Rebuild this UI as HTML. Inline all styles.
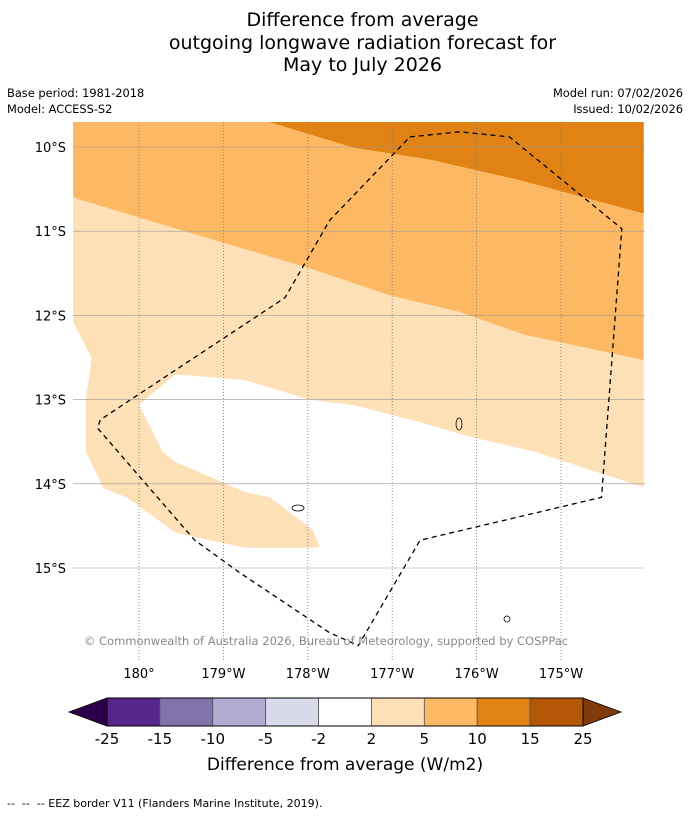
<!DOCTYPE html>
<html><head><meta charset="utf-8">
<style>
body{margin:0;background:#fff;font-family:"DejaVu Sans","Liberation Sans",sans-serif;}
#wrap{position:relative;width:690px;height:816px;overflow:hidden;}
.t{position:absolute;white-space:nowrap;}
</style></head><body>
<div id="wrap">
<div class="t" style="left:0;width:725px;top:9px;text-align:center;font-size:19px;line-height:22.5px;color:#000">Difference from average<br>outgoing longwave radiation forecast for<br>May to July 2026</div>
<div class="t" style="left:7px;top:85px;font-size:11.4px;line-height:16px">Base period: 1981-2018<br>Model: ACCESS-S2</div>
<div class="t" style="right:7px;top:85px;font-size:11.4px;line-height:16px;text-align:right">Model run: 07/02/2026<br>Issued: 10/02/2026</div>
<svg id="svg" width="690" height="816" style="position:absolute;left:0;top:0"></svg>
<div class="t" style="left:7px;top:797px;font-size:11px">--&nbsp; --&nbsp; -- EEZ border V11 (Flanders Marine Institute, 2019).</div>
</div>
<script>
// axis ticks
const lonTicks=[0,1,2,3,4,5]; // degrees west of 180
const lonLabels=["180°","179°W","178°W","177°W","176°W","175°W"];
const latTicks=[10,11,12,13,14,15];
const latLabels=["10°S","11°S","12°S","13°S","14°S","15°S"];
// contour bands [degW, degS]
const band10=[[1.53,9.7],[2.55,10.01],[3.45,10.15],[4.5,10.39],[5.98,10.79],[5.98,9.7]];
const band5=[[-0.78,10.6],[0.01,10.84],[1.08,11.16],[2.02,11.44],[2.97,11.76],[3.8,11.96],[4.57,12.23],[5.98,12.53],[5.98,9.7],[-0.78,9.7]];
const band2=[[-0.78,12.08],[-0.56,12.51],[-0.63,13.0],[-0.63,13.62],[-0.42,14.05],[-0.13,14.17],[0.43,14.58],[1.26,14.76],[2.08,14.76],[2.14,14.75],[2.06,14.55],[1.55,14.16],[1.26,14.1],[0.43,13.74],[0.28,13.62],[0,13.06],[0.43,12.7],[1.26,12.77],[2.02,13.0],[2.56,13.07],[3.33,13.27],[3.92,13.44],[4.69,13.62],[5.98,14.04],[5.98,9.7],[-0.78,9.7]];
const eez=[[3.21,9.88],[3.8,9.82],[4.39,9.88],[5.72,10.97],[5.48,14.16],[3.33,14.67],[2.6,15.92],[2.26,15.77],[1.2,15.06],[0.66,14.67],[-0.49,13.34],[-0.46,13.24],[1.73,11.79],[2.26,10.87],[3.21,9.88]];
const X=d=>139+d*84.4, Y=d=>147+(d-10)*84.2;
const NS='http://www.w3.org/2000/svg', svg=document.getElementById('svg');
function mk(t,a,p){const e=document.createElementNS(NS,t);for(const k in a)e.setAttribute(k,a[k]);(p||svg).appendChild(e);return e;}
const cp0=mk('clipPath',{id:'clip'});
mk('rect',{x:73,y:122,width:572,height:538},cp0);
const g=mk('g',{'clip-path':'url(#clip)'});


const pts=a=>a.map(p=>X(p[0]).toFixed(1)+','+Y(p[1]).toFixed(1)).join(' ');
[[band2,'#fee0b6','band-2-5'],[band5,'#fdb863','band-5-10'],[band10,'#e08214','band-10-15']].forEach(b=>{
 const e=mk('polygon',{points:pts(b[0]),fill:b[1]},g);
 
 
});
lonTicks.forEach((d,i)=>{
 const l=mk('line',{x1:X(d),x2:X(d),y1:122,y2:660,stroke:'#777','stroke-width':0.8,'stroke-dasharray':'1,2'},g);
 
 
 const t=mk('text',{x:X(d),y:678,'text-anchor':'middle','font-size':13});t.textContent=lonLabels[i];
 
 
});
latTicks.forEach((d,i)=>{
 const l=mk('line',{x1:73,x2:645,y1:Y(d),y2:Y(d),stroke:'#999','stroke-width':0.6},g);
 
 
 const t=mk('text',{x:66,y:Y(d)+5,'text-anchor':'end','font-size':13});t.textContent=latLabels[i];
 
 
});
const ez=mk('polyline',{points:pts(eez),fill:'none',stroke:'#000','stroke-width':1.3,'stroke-dasharray':'5,4'},g);


// islands
[[459,424,3,6],[298,508,6,3],[507,619,3,3]].forEach(s=>{const e=mk('ellipse',{cx:s[0],cy:s[1],rx:s[2],ry:s[3],fill:'none',stroke:'#000','stroke-width':0.8},g);
 
 });
const cp=mk('text',{x:326,y:645,'text-anchor':'middle','font-size':11.5,fill:'#888'});cp.textContent='© Commonwealth of Australia 2026, Bureau of Meteorology, supported by COSPPac';


// colorbar
const cbTicks=["-25","-15","-10","-5","-2","2","5","10","15","25"];
const cbColors=['#542788','#8073ac','#b2abd2','#d8daeb','#ffffff','#fee0b6','#fdb863','#e08214','#b35806'];
const cx0=107,cx1=583,cy0=698,cy1=726,w=(cx1-cx0)/cbColors.length;
const lo=mk('polygon',{points:`${cx0},${cy0} 69,712 ${cx0},${cy1}`,fill:'#2d004b',stroke:'#000','stroke-width':0.8});


const hi=mk('polygon',{points:`${cx1},${cy0} 621,712 ${cx1},${cy1}`,fill:'#7f3b08',stroke:'#000','stroke-width':0.8});


cbColors.forEach((c,i)=>{const r=mk('rect',{x:cx0+i*w,y:cy0,width:w,height:cy1-cy0,fill:c,stroke:'#555','stroke-width':0.8});
 
 });
mk('rect',{x:cx0,y:cy0,width:cx1-cx0,height:cy1-cy0,fill:'none',stroke:'#000','stroke-width':1});
cbTicks.forEach((s,i)=>{const t=mk('text',{x:cx0+i*w,y:744,'text-anchor':'middle','font-size':15});t.textContent=s;
 
 });
const ct=mk('text',{x:345,y:770,'text-anchor':'middle','font-size':17});ct.textContent='Difference from average (W/m2)';


</script>
</body></html>
